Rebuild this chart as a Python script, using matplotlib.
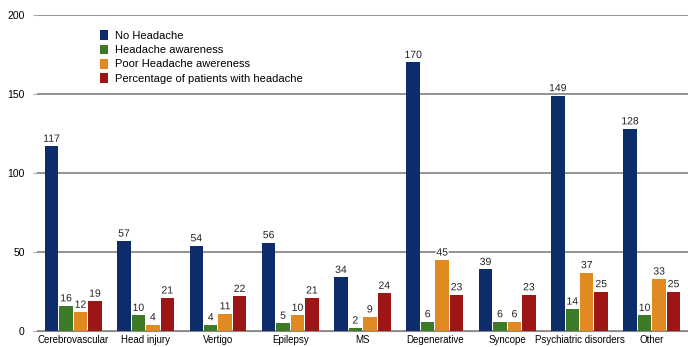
import matplotlib
matplotlib.use("Agg")
import matplotlib.pyplot as plt
import matplotlib.patheffects as pe
import numpy as np

categories = ["Cerebrovascular", "Head injury", "Vertigo", "Epilepsy", "MS",
              "Degenerative", "Syncope", "Psychiatric disorders", "Other"]
no_headache = [117, 57, 54, 56, 34, 170, 39, 149, 128]
headache_awareness = [16, 10, 4, 5, 2, 6, 6, 14, 10]
poor_awareness = [12, 4, 11, 10, 9, 45, 6, 37, 33]
pct_headache = [19, 21, 22, 21, 24, 23, 23, 25, 25]

series = [
    ("No Headache", no_headache, "#0c2d69"),
    ("Headache awareness", headache_awareness, "#3c7a27"),
    ("Poor Headache awereness", poor_awareness, "#e18a22"),
    ("Percentage of patients with headache", pct_headache, "#9c1616"),
]

plt.rcParams["font.family"] = ["Liberation Sans", "DejaVu Sans"]

fig = plt.figure(figsize=(6.88, 3.47), dpi=100)
ax = fig.add_axes([0.054, 0.046, 0.946, 0.911])

x = np.arange(len(categories))
w = 0.2
halo = [pe.withStroke(linewidth=2, foreground="white")]
for i, (name, vals, col) in enumerate(series):
    pos = x + (i - 1.5) * w
    bars = ax.bar(pos, vals, width=w * 0.93, color=col, label=name, zorder=3)
    for b, v in zip(bars, vals):
        ax.text(b.get_x() + b.get_width() / 2, v + 1.5, str(v), ha="center",
                va="bottom", fontsize=7.5, color="#222222", path_effects=halo,
                zorder=4)

ax.set_xlim(-0.5, len(categories) - 0.5)
ax.set_ylim(0, 200)
ax.set_yticks([0, 50, 100, 150, 200])
ax.yaxis.grid(True, color="#8a8a8a", lw=1.3, zorder=0)
ax.set_xticks(x)
ax.set_xticklabels(categories, fontsize=7)
ax.tick_params(axis="x", length=0, pad=3)
ax.tick_params(axis="y", length=3, labelsize=7.5, pad=6, color="#aaaaaa")
for s in ["top", "right", "left"]:
    ax.spines[s].set_visible(False)
ax.spines["bottom"].set_color("#8a8a8a")

ax.legend(loc="upper left", bbox_to_anchor=(0.089, 0.965), frameon=False,
          fontsize=8, handlelength=0.8, handleheight=1.0, handletextpad=0.6,
          labelspacing=0.3, borderaxespad=0)

fig.savefig("out.png", dpi=100)
